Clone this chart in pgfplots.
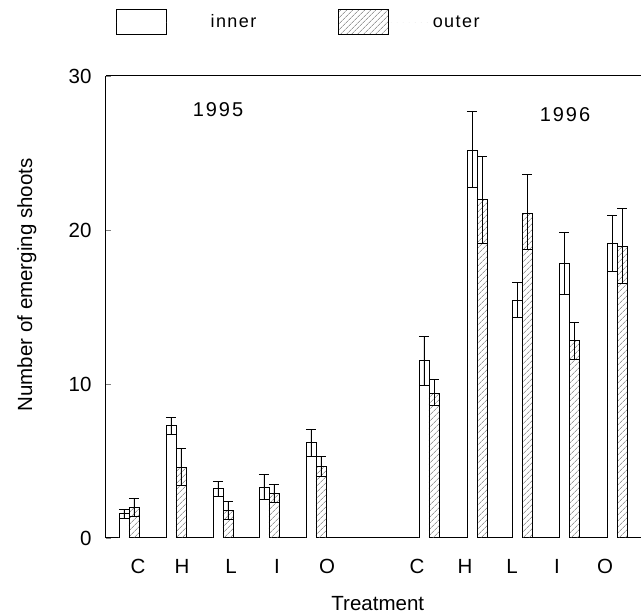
\documentclass[border=0pt]{standalone}
\usepackage{fontspec}
\setmainfont{Liberation Sans}
\newfontfamily\legfont[LetterSpace=8]{Liberation Sans}
\newfontfamily\yearfont[LetterSpace=10]{Liberation Sans}
\usepackage{pgfplots}
\usepackage{pgfplotstable}
\pgfplotsset{compat=1.18}
\usetikzlibrary{patterns.meta}

\pgfplotstableread{
x   y     ep    em
124 1.6   0.26  0.30
171 7.3   0.50  0.60
218 3.2   0.45  0.50
264 3.3   0.80  0.80
311 6.2   0.86  0.90
424 11.5  1.60  1.60
472 25.2  2.50  2.45
517 15.4  1.20  1.10
564 17.8  2.05  2.00
612 19.1  1.87  1.80
}\inner

\pgfplotstableread{
x   y     ep    em
134 2.0   0.60  0.62
181 4.6   1.20  1.20
228 1.8   0.60  0.60
274 2.9   0.55  0.60
321 4.63  0.67  0.63
434 9.4   0.90  0.80
482 22.0  2.80  2.90
527 21.1  2.50  2.35
574 12.8  1.20  1.20
622 18.96 2.44  2.46
}\outer

\begin{document}
\begin{tikzpicture}
\begin{axis}[
  name=ax,
  scale only axis,
  width=535pt, height=462pt,
  xmin=106, xmax=641,
  ymin=0, ymax=30,
  axis x line=box,
  axis y line=left,
  axis line style={line width=1pt, -},
  ytick={0,10,20,30},
  tick align=inside,
  major tick length=5pt,
  ytick style={line width=0.8pt},
  xtick={138,182,231,277,327,417,465,512,557,605},
  xticklabels={C,H,L,I,O,C,H,L,I,O},
  xtick style={draw=none},
  /pgf/number format/assume math mode=true,
  tick label style={font=\fontsize{20.5}{24}\selectfont},
  yticklabel style={xshift=-11pt},
  xticklabel style={yshift=-18pt},
  xlabel={Treatment},
  ylabel={Number of emerging shoots},
  xlabel style={font=\fontsize{20.5}{24}\selectfont, at={(axis description cs:0.508,-0.141)}, anchor=center},
  ylabel style={font=\fontsize{20.5}{24}\selectfont, at={(axis description cs:-0.148,0.548)}, anchor=center},
  legend columns=2,
  legend style={at={(axis description cs:0.0187,1.145)}, anchor=north west,
    draw=none, fill=none, inner sep=0pt,
    font=\legfont\fontsize{18}{21}\selectfont,
    nodes={inner sep=0pt},
    /tikz/every even column/.append style={column sep=82pt}},
  error bars/y dir=both,
  error bars/y explicit,
  error bars/error bar style={line width=0.8pt, black},
  error bars/error mark options={rotate=90, mark size=5pt, line width=0.8pt, black},
]
\addplot[ybar, bar shift=0pt, bar width=10, draw=black, line width=0.8pt, fill=white,
  legend image code/.code={\draw[line width=0.8pt, draw=black, fill=white] (0pt,-12.5pt) rectangle (50pt,12.5pt); \path[draw=none] (0pt,0pt) -- (94pt,0pt);}]
  table[x=x, y=y, y error plus=ep, y error minus=em] {\inner};
\addlegendentry{inner}
\addplot[ybar, bar shift=0pt, bar width=10, draw=black, line width=0.8pt,
  pattern={Lines[angle=45, distance=4pt, line width=0.5pt]}, pattern color=black!60,
  legend image code/.code={\draw[line width=0.8pt, draw=black, pattern={Lines[angle=45, distance=4pt, line width=0.5pt]}, pattern color=black!60] (0pt,-12.5pt) rectangle (50pt,12.5pt); \path[draw=none] (0pt,0pt) -- (94pt,0pt);}]
  table[x=x, y=y, y error plus=ep, y error minus=em] {\outer};
\addlegendentry{outer}
\node[font=\yearfont\fontsize{20}{24}\selectfont] at (axis cs:218,27.8) {1995};
\node[font=\yearfont\fontsize{20}{24}\selectfont] at (axis cs:565,27.5) {1996};
\end{axis}
\pgfresetboundingbox
\path ([xshift=-106pt,yshift=-76pt]ax.south west) rectangle ([yshift=76pt]ax.north east);
\end{tikzpicture}
\end{document}
